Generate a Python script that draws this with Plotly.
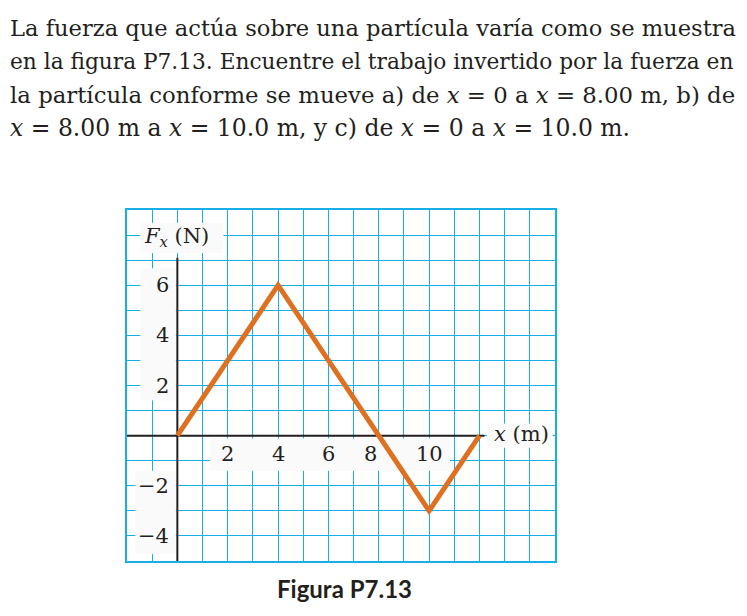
import plotly.graph_objects as go

# ---- data ----
x_vals = [0, 4, 8, 10, 12]
f_vals = [0, 6, 0, -3, 0]
x_tick_vals = [2, 4, 6, 8, 10]
x_tick_text = ["2", "4", "6", "8", "10"]
y_tick_vals = [6, 4, 2, -2, -4]
y_tick_text = ["6", "4", "2", "\u22122", "\u22124"]

text_lines = [
    "La fuerza que actúa sobre una partícula varía como se muestra",
    "en la figura P7.13. Encuentre el trabajo invertido por la fuerza en",
    "la partícula conforme se mueve a) de <i>x</i> = 0 a <i>x</i> = 8.00 m, b) de",
    "<i>x</i> = 8.00 m a <i>x</i> = 10.0 m, y c) de <i>x</i> = 0 a <i>x</i> = 10.0 m.",
]
caption = "Figura P7.13"

W, H = 747, 616
L, R, T, B = 127, 555, 210, 561
GRID = "#18AEE6"
ORANGE = "#DF7020"
AX = "#231F20"
BOX = "#FAFAFA"
SERIF = "DejaVu Serif"


def px(x):
    return (x - L) / (R - L)


def py(y):
    return (B - y) / (B - T)


fig = go.Figure()
fig.add_trace(go.Scatter(x=x_vals, y=f_vals, mode="lines",
                         line=dict(color=ORANGE, width=5), hoverinfo="skip",
                         showlegend=False))

shapes = []
boxes = [
    (-1.47, 7.28, 1.83, 8.48),   # F_x (N)
    (-1.47, 1.4, -0.06, 6.68),   # positive y tick labels
    (-1.67, -4.72, -0.06, -1.4), # negative y tick labels
    (1.31, -1.4, 10.83, -0.1),   # x tick labels
    (12.3, -0.48, 14.9, 0.48),   # x (m)
]
for x0, y0, x1, y1 in boxes:
    shapes.append(dict(type="rect", xref="x", yref="y", x0=x0, x1=x1, y0=y0, y1=y1,
                       fillcolor=BOX, line=dict(width=0), layer="between"))
shapes.append(dict(type="line", xref="x", yref="y", x0=0, x1=0, y0=-5, y1=7.1,
                   line=dict(color=AX, width=2), layer="between"))
shapes.append(dict(type="line", xref="x", yref="y", x0=-2, x1=12.2, y0=0, y1=0,
                   line=dict(color=AX, width=2), layer="between"))

ann = []
tick_font = dict(family=SERIF, size=21, color=AX)
for v, t in zip(x_tick_vals, x_tick_text):
    # the "8" label sits just left of where the curve crosses the axis
    shift = -8 / 25.2 if v == 8 else 0
    ann.append(dict(x=v, y=-0.72, xref="x", yref="y", text=t, showarrow=False,
                    xanchor="center", yanchor="middle", xshift=shift * 25.2,
                    font=tick_font))
for v, t in zip(y_tick_vals, y_tick_text):
    ann.append(dict(x=-0.25, y=v, xref="x", yref="y", text=t, showarrow=False,
                    xanchor="right", yanchor="middle", font=tick_font))
ann.append(dict(x=-1.42, y=7.92, xref="x", yref="y",
                text="<i>F</i><sub><i>x</i></sub> (N)", showarrow=False,
                xanchor="left", yanchor="middle", font=tick_font))
ann.append(dict(x=12.5, y=0.05, xref="x", yref="y", text="<i>x</i> (m)",
                showarrow=False, xanchor="left", yanchor="middle", font=tick_font))

baselines = [36.5, 70, 103.5, 136]
sizes = [22.6, 21.7, 22.8, 23.5]
for line, bl, fs in zip(text_lines, baselines, sizes):
    ann.append(dict(x=px(8), y=py(bl - 0.36 * 23), xref="paper", yref="paper",
                    text=line, showarrow=False, xanchor="left", yanchor="middle",
                    font=dict(family=SERIF, size=fs, color=AX)))

ann.append(dict(x=px(344), y=py(588), xref="paper", yref="paper",
                text="<b>" + caption + "</b>", showarrow=False,
                xanchor="center", yanchor="middle",
                font=dict(family="Lato", size=24, color=AX)))

axis_common = dict(showgrid=True, gridcolor=GRID, gridwidth=1.3, dtick=1,
                   zeroline=False, showticklabels=False, ticks="",
                   showline=True, linecolor=GRID, linewidth=2, mirror=True,
                   fixedrange=True)
fig.update_layout(
    width=W, height=H,
    margin=dict(l=L, r=W - R, t=T, b=H - B),
    paper_bgcolor="white", plot_bgcolor="white",
    xaxis=dict(range=[-2, 15], tick0=0, **axis_common),
    yaxis=dict(range=[-5, 9], tick0=0, **axis_common),
    shapes=shapes, annotations=ann, showlegend=False,
)
fig.write_html("out.html", config={"displayModeBar": False},
               post_script="document.body.style.margin='0';document.body.style.overflow='hidden';")
